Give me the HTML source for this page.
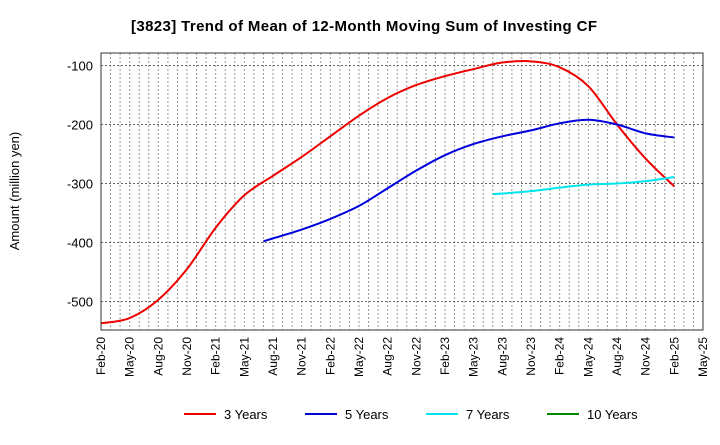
<!DOCTYPE html>
<html><head><meta charset="utf-8"><style>
body{margin:0;background:#fff;font-family:"Liberation Sans",sans-serif}
</style></head><body>
<svg id="c" width="720" height="440" xmlns="http://www.w3.org/2000/svg">
<text x="364" y="31" text-anchor="middle" font-size="15" font-weight="bold" fill="#000" textLength="466">[3823]  Trend of Mean of 12-Month Moving Sum of Investing CF</text>
<text transform="translate(19,191) rotate(-90)" text-anchor="middle" font-size="13">Amount (million yen)</text>
<g id="grid"></g><g id="series"></g><g id="axes"></g>
</svg>
<script>
const xLabels=["Feb-20","May-20","Aug-20","Nov-20","Feb-21","May-21","Aug-21","Nov-21","Feb-22","May-22","Aug-22","Nov-22","Feb-23","May-23","Aug-23","Nov-23","Feb-24","May-24","Aug-24","Nov-24","Feb-25","May-25"];
const yTicks=[-100,-200,-300,-400,-500];
const m3=[0,3,6,9,12,15,18,21,24,27,30,33,36,39,42,45,48,51,54,57,60];
const v3=[-537,-528,-497,-445,-375,-320,-287,-255,-220,-185,-155,-133,-118,-106,-95,-93,-103,-135,-200,-258,-305];
const m5=[17,18,21,24,27,30,33,36,39,42,45,48,51,54,57,60];
const v5=[-398,-393,-378,-360,-338,-308,-278,-252,-233,-220,-210,-198,-192,-200,-215,-222];
const m7=[41,42,45,48,51,54,57,60];
const v7=[-318,-317,-313,-307,-302,-300,-296,-289];
const m10=[];const v10=[];
const L=101,R=703,T=53,B=330;
const X=m=>L+(R-L)*m/63;
const Y=v=>65.5+(-100-v)*59/100;
const NS="http://www.w3.org/2000/svg";
function mk(p,t,a){const e=document.createElementNS(NS,t);for(const k in a)e.setAttribute(k,a[k]);p.appendChild(e);return e;}
const g=document.getElementById('grid'),ax=document.getElementById('axes'),s=document.getElementById('series');
for(let m=1;m<63;m++){const l=mk(g,'line',{x1:X(m),x2:X(m),y1:T,y2:B,stroke:'#999','stroke-dasharray':'2,2','stroke-width':1});
}
yTicks.forEach(v=>{const l=mk(g,'line',{x1:L,x2:R,y1:Y(v),y2:Y(v),stroke:'#666','stroke-dasharray':'2,2','stroke-width':1});

const t=mk(ax,'text',{x:L-8,y:Y(v)+5,'text-anchor':'end','font-size':13});t.textContent=v;
});
const fr=mk(ax,'rect',{x:L,y:T,width:R-L,height:B-T,fill:'none',stroke:'#333'});

xLabels.forEach((lb,i)=>{const x=X(i*3);const t=mk(ax,'text',{transform:`translate(${x+4},${B+7}) rotate(-90)`,'text-anchor':'end','font-size':12});t.textContent=lb;
});
function path(ms,vs){const p=ms.map((m,i)=>[X(m),Y(vs[i])]);if(p.length<2)return '';let d=`M${p[0][0]},${p[0][1]}`;
for(let i=0;i<p.length-1;i++){const p0=p[i-1]||p[i],p1=p[i],p2=p[i+1],p3=p[i+2]||p2;
d+=` C${p1[0]+(p2[0]-p0[0])/6},${p1[1]+(p2[1]-p0[1])/6} ${p2[0]-(p3[0]-p1[0])/6},${p2[1]-(p3[1]-p1[1])/6} ${p2[0]},${p2[1]}`;}return d;}
[[m3,v3,'#ee0000','series-3-years'],[m5,v5,'#0000dd','series-5-years'],[m7,v7,'#00e5ee','series-7-years'],[m10,v10,'#008800','series-10-years']].forEach(([m,v,c,n])=>{
const e=mk(s,'path',{d:path(m,v),fill:'none',stroke:c,'stroke-width':2});});
const leg=[["3 Years","#ee0000",184],["5 Years","#0000dd",305],["7 Years","#00e5ee",426],["10 Years","#008800",547]];
leg.forEach(([n,c,x])=>{const gg=mk(ax,'g',{});
mk(gg,'line',{x1:x,x2:x+32,y1:414,y2:414,stroke:c,'stroke-width':2});
const t=mk(gg,'text',{x:x+40,y:419,'font-size':13});t.textContent=n;});
</script>
</body></html>
